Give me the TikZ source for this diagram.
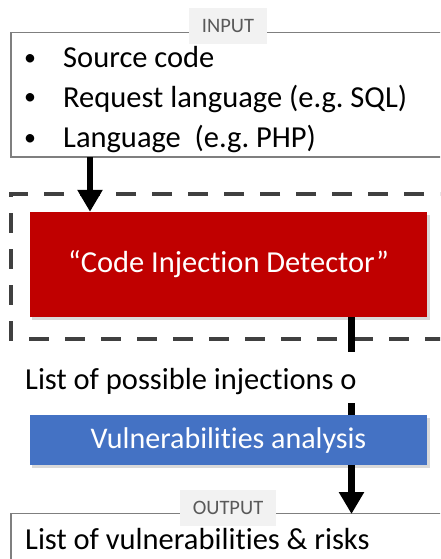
\documentclass[tikz,border=0pt]{standalone}
\usepackage{fontspec}
\setmainfont[Ligatures=NoCommon]{Carlito}
\usetikzlibrary{arrows.meta}
\frenchspacing
\definecolor{boxred}{HTML}{C00000}
\definecolor{boxblue}{HTML}{4472C4}
\definecolor{dashgray}{HTML}{404040}
\definecolor{bordergray}{HTML}{7F7F7F}
\definecolor{labelbg}{HTML}{F2F2F2}
\definecolor{labeltext}{HTML}{595959}
\begin{document}
\begin{tikzpicture}[x=1pt,y=-1pt,
  frame/.style={draw=bordergray,line width=1.3pt,fill=white},
  tag/.style={fill=labelbg,text=labeltext,font=\fontsize{20.5}{24}\selectfont,inner sep=0pt},
  bigtext/.style={font=\fontsize{30.5}{34}\selectfont,anchor=base west,inner sep=0pt},
  procbox/.style={inner sep=0pt,text=white,font=\fontsize{30.5}{34}\selectfont},
  flow/.style={line width=6.5pt,draw=black},
  flowarrow/.style={flow,-{Triangle[width=24pt,length=22pt]}},
  shade/.style={fill=black,opacity=0.15}
]
\useasboundingbox (0,0) rectangle (440,559);
\clip (0,0) rectangle (440,559);
\fill[white] (0,0) rectangle (440,559);
% input frame
\draw[frame] (11,32.5) rectangle (460,157);
\node[tag,minimum width=78pt,minimum height=36pt] (inlabel) at (228,26) {INPUT};
\node[bigtext,font=\fontsize{24}{28}\selectfont] (b1) at (24,66) {•};
\node[bigtext] (t1) at (63,68) {Source code};
\node[bigtext,font=\fontsize{24}{28}\selectfont] (b2) at (24,105) {•};
\node[bigtext] (t2) at (63,107) {Request language (e.g. SQL)};
\node[bigtext,font=\fontsize{24}{28}\selectfont] (b3) at (24,145) {•};
\node[bigtext] (t3) at (63,147) {Language\ \ (e.g. PHP)};
\coordinate (inbottom) at (90,157);
% dashed frame
\draw[dashgray,line width=4.5pt,dash pattern=on 20pt off 16pt] (460,194) -- (11,194) -- (11,339) -- (460,339);
% red box
\fill[shade] (32,215) rectangle (430,320);
\node[procbox,fill=boxred,minimum width=397pt,minimum height=105pt] (detector) at (228.5,264.5) {“Code Injection Detector”};
\draw[flowarrow] (inbottom) -- (inbottom |- detector.north);
% list text
\node[bigtext] (list) at (25,389) {List of possible injections o};
\coordinate (gap1) at (351.5,352);
\coordinate (gap2) at (351.5,403);
\draw[flow] (detector.south -| gap1) -- (gap1);
% blue box
\fill[shade] (32,418) rectangle (430,468);
\node[procbox,fill=boxblue,minimum width=397pt,minimum height=50pt,font=\fontsize{30}{34}\selectfont] (vuln) at (228.5,440) {Vulnerabilities analysis};
\draw[flow] (gap2) -- (gap2 |- vuln.north);
% output frame
\draw[frame] (11,513.5) rectangle (460,600);
\node[tag,minimum width=96pt,minimum height=36pt] (outlabel) at (228,508) {OUTPUT};
\node[bigtext] (out) at (25,549) {List of vulnerabilities \& risks};
\coordinate (outtop) at (351.5,514);
\draw[flowarrow] (vuln.south -| outtop) -- (outtop);
\end{tikzpicture}
\end{document}
